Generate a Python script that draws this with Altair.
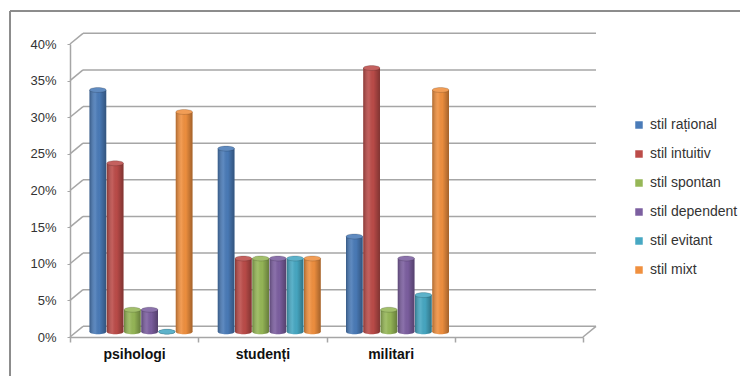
import altair as alt
import pandas as pd

# Decision-style shares (%) per respondent group
groups = ["psihologi", "studenți", "militari"]
slots = groups + [" "]  # fourth, empty category slot on the floor
styles = ["stil rațional", "stil intuitiv", "stil spontan",
          "stil dependent", "stil evitant", "stil mixt"]
colors = ["#4A7BB8", "#BC4C49", "#96B757", "#7C5FA0", "#47A8C3", "#F0903F"]
psihologi = [33, 23, 3, 3, 0, 30]
studenti = [25, 10, 10, 10, 10, 10]
militari = [13, 36, 3, 10, 5, 33]
y_ticks = [0, 5, 10, 15, 20, 25, 30, 35, 40]

W, H = 513, 293           # front plot area
DX, DY = 13, -10.7        # depth of the back wall
MX, MY = 6.5, -5.3        # bars sit halfway in depth
FONT = "Liberation Sans"
GRID = "#A6A6A6"

rows = []
for g, vals in zip(groups, [psihologi, studenti, militari]):
    for s, v in zip(styles, vals):
        rows.append({"group": g, "style": s, "value": v})
bars_df = pd.DataFrame(rows)

x_scale = alt.Scale(domain=slots, paddingInner=0, paddingOuter=0)
y_scale = alt.Scale(domain=[0, 40], nice=False, zero=True)
off_scale = alt.Scale(domain=styles, range=[13 + MX, 116 + MX],
                      paddingInner=0.03, paddingOuter=0)
col_scale = alt.Scale(domain=styles, range=colors)

x_axis = alt.Axis(
    title=None, labelAngle=0, tickBand="extent", tickSize=5,
    domainColor=GRID, domainWidth=1.5, tickColor=GRID, tickWidth=1.5,
    labelFont=FONT, labelFontSize=14, labelFontWeight="bold",
    labelColor="#111111", labelPadding=5)
y_axis = alt.Axis(
    title=None, values=y_ticks, labelExpr="datum.value + '%'",
    grid=False, domainColor=GRID, domainWidth=1.5, tickColor=GRID,
    tickSize=3, labelPadding=11, labelFont=FONT, labelFontSize=13,
    labelColor="#333333")
legend = alt.Legend(
    title=None, orient="none", legendX=562, legendY=74,
    symbolType="square", symbolSize=56, symbolStrokeWidth=0,
    labelFont=FONT, labelFontSize=14, labelColor="#333333",
    rowPadding=15, labelOffset=4, padding=0)

ELLIPSE = "M -1 0 A 1 0.3 0 1 0 1 0 A 1 0.3 0 1 0 -1 0 Z"
CAP_SIZE = 16.6 * 16.6

shade = alt.Gradient(
    gradient="linear", x1=0, x2=1, y1=0, y2=0,
    stops=[
        alt.GradientStop(color="rgba(0,0,0,0.28)", offset=0),
        alt.GradientStop(color="rgba(255,255,255,0.10)", offset=0.35),
        alt.GradientStop(color="rgba(0,0,0,0.02)", offset=0.6),
        alt.GradientStop(color="rgba(0,0,0,0.32)", offset=1),
    ],
)

base = alt.Chart(bars_df)
x_enc = alt.X("group:N", scale=x_scale, axis=x_axis)
off_enc = alt.XOffset("style:N", scale=off_scale)
y_enc = alt.Y("value:Q", scale=y_scale, axis=y_axis)
y_zero = alt.Y("zero:Q", scale=y_scale, axis=y_axis)
col_enc = alt.Color("style:N", scale=col_scale, legend=legend)

# outer frame (top and left edges)
frame_top = base.mark_rule(color="#8C8C8C", strokeWidth=1).encode(
    x=alt.value(-60), x2=alt.value(W + 157), y=alt.value(-33))
frame_left = base.mark_rule(color="#8C8C8C", strokeWidth=1).encode(
    x=alt.value(-60), y=alt.value(-33), y2=alt.value(H + 39))

ticks = alt.Chart(pd.DataFrame({"value": y_ticks}))

# back-wall gridlines
back_grid = ticks.mark_rule(
    color=GRID, strokeWidth=1.5, xOffset=DX, x2Offset=DX, yOffset=DY
).encode(y=y_enc, x=alt.value(0), x2=alt.value(W))

# side-wall diagonals from the value axis to the back wall
side = ticks.mark_rule(
    color=GRID, strokeWidth=1.5, x2Offset=DX, y2Offset=DY
).encode(y=y_enc, y2="value:Q", x=alt.value(0), x2=alt.value(0))

# right edge of the floor
floor_edge = alt.Chart(pd.DataFrame({"value": [0]})).mark_rule(
    color=GRID, strokeWidth=1.5, x2Offset=DX, y2Offset=DY
).encode(y=y_enc, y2="value:Q", x=alt.value(W), x2=alt.value(W))

zb = base.transform_calculate(zero="0")

# rounded cylinder bottoms
bottom = zb.mark_point(shape=ELLIPSE, filled=True, size=CAP_SIZE,
                       opacity=1, strokeWidth=0, yOffset=MY).encode(
    x=x_enc, xOffset=off_enc, y=y_zero, color=col_enc)
bottom_shade = zb.mark_point(shape=ELLIPSE, filled=True, size=CAP_SIZE,
                             opacity=1, strokeWidth=0, yOffset=MY,
                             fill=shade).encode(
    x=x_enc, xOffset=off_enc, y=y_zero)

# cylinder bodies
bars = base.mark_bar(yOffset=MY, y2Offset=MY).encode(
    x=x_enc, xOffset=off_enc, y=y_enc, color=col_enc)
bars_shade = base.mark_bar(yOffset=MY, y2Offset=MY, fill=shade).encode(
    x=x_enc, xOffset=off_enc, y=y_enc)

# cylinder tops
top = base.mark_point(shape=ELLIPSE, filled=True, size=CAP_SIZE,
                      opacity=1, strokeWidth=0, yOffset=MY).encode(
    x=x_enc, xOffset=off_enc, y=y_enc, color=col_enc)
top_light = base.mark_point(shape=ELLIPSE, filled=True, size=CAP_SIZE,
                            opacity=0.12, strokeWidth=0, yOffset=MY,
                            fill="white").encode(
    x=x_enc, xOffset=off_enc, y=y_enc)
top_rim = base.mark_point(shape=ELLIPSE, filled=False, size=CAP_SIZE,
                          stroke="black", strokeOpacity=0.22, strokeWidth=1,
                          yOffset=MY).encode(
    x=x_enc, xOffset=off_enc, y=y_enc)

chart = alt.layer(
    frame_top, frame_left, back_grid, side, floor_edge,
    bottom, bottom_shade, bars, bars_shade, top, top_light, top_rim,
).properties(
    width=W, height=H,
    autosize=alt.AutoSizeParams(type="none"),
    padding={"left": 70, "top": 44, "right": 157, "bottom": 39},
    background="white",
).configure_view(stroke=None)

chart.save("out.html", embed_options={"renderer": "svg", "actions": False})
